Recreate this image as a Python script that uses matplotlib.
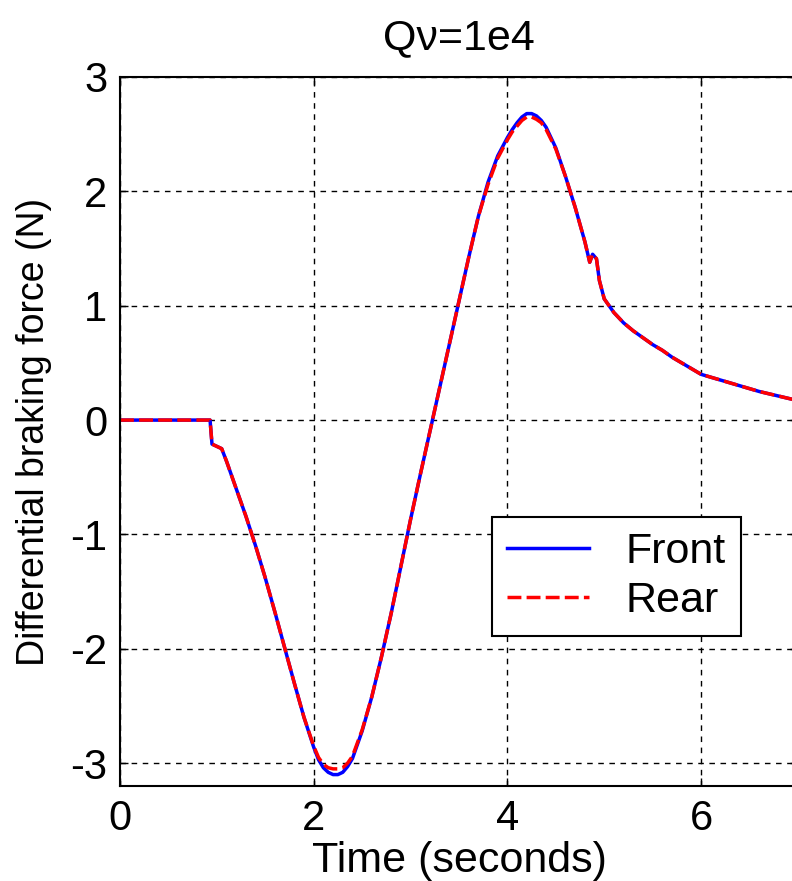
import numpy as np
import matplotlib
matplotlib.use("Agg")
import matplotlib.pyplot as plt

plt.rcParams['font.family'] = ['Liberation Sans', 'DejaVu Sans']
plt.rcParams['axes.unicode_minus'] = False

# time samples (s)
t = [0.0, 0.5, 0.93, 0.95, 1.0, 1.05, 1.1, 1.2, 1.3, 1.4, 1.5, 1.6, 1.7, 1.8,
     1.9, 2.0, 2.05, 2.1, 2.15, 2.2, 2.25, 2.3, 2.35, 2.4, 2.5, 2.6, 2.7,
     2.8, 2.9, 3.0, 3.1, 3.2, 3.3, 3.4, 3.5, 3.6, 3.7, 3.8, 3.9, 4.0, 4.05,
     4.1, 4.15, 4.2, 4.25, 4.3, 4.35, 4.4, 4.5, 4.6, 4.7, 4.8, 4.85, 4.88,
     4.92, 4.95, 5.0, 5.1, 5.2, 5.3, 5.4, 5.5, 5.6, 5.7, 5.8, 5.9, 6.0,
     6.2, 6.4, 6.6, 6.8, 7.0]

# differential braking force (N)
front = [0.0, 0.0, 0.0, -0.21, -0.23, -0.25, -0.36, -0.6, -0.84, -1.1, -1.38,
         -1.68, -1.99, -2.3, -2.6, -2.86, -2.97, -3.04, -3.08, -3.1, -3.1,
         -3.08, -3.03, -2.96, -2.72, -2.42, -2.07, -1.69, -1.28, -0.87,
         -0.48, -0.1, 0.28, 0.66, 1.04, 1.42, 1.78, 2.08, 2.31, 2.47, 2.54,
         2.6, 2.65, 2.68, 2.68, 2.66, 2.62, 2.56, 2.38, 2.13, 1.86, 1.56,
         1.38, 1.45, 1.41, 1.22, 1.06, 0.94, 0.85, 0.78, 0.72, 0.66, 0.61,
         0.55, 0.5, 0.45, 0.4, 0.35, 0.3, 0.25, 0.21, 0.17]
rear = [0.0, 0.0, 0.0, -0.21, -0.23, -0.25, -0.36, -0.6, -0.84, -1.1, -1.38,
        -1.68, -1.99, -2.3, -2.6, -2.85, -2.95, -3.01, -3.04, -3.05, -3.05,
        -3.04, -3.0, -2.94, -2.71, -2.42, -2.07, -1.69, -1.28, -0.87,
        -0.48, -0.1, 0.28, 0.66, 1.04, 1.42, 1.78, 2.06, 2.29, 2.45, 2.52,
        2.57, 2.62, 2.65, 2.65, 2.63, 2.6, 2.54, 2.37, 2.13, 1.86, 1.56,
        1.38, 1.45, 1.41, 1.22, 1.06, 0.94, 0.85, 0.78, 0.72, 0.66, 0.61,
        0.55, 0.5, 0.45, 0.4, 0.35, 0.3, 0.25, 0.21, 0.17]

xticks = [0, 2, 4, 6]
yticks = [-3, -2, -1, 0, 1, 2, 3]
yticklabels = ['-3', '-2', '-1', '0', '1', '2', '3']

fig = plt.figure(figsize=(7.92, 8.81), dpi=100)
ax = fig.add_axes([0.1515, 0.1078, 0.856, 0.8048])

ax.plot(t, front, color='#0000ff', lw=2.5, label='Front')
ax.plot(t, rear, color='#ff0000', lw=2.5, ls=(0, (4, 1.5)), label='Rear')

ax.set_xlim(0, 7)
ax.set_ylim(-3.2, 3)
ax.set_xticks(xticks)
ax.set_yticks(yticks)
ax.set_yticklabels(yticklabels)
ax.tick_params(direction='in', length=6, width=1, labelsize=30,
               top=True, right=True, pad=9)
ax.grid(True, color='black', ls=(0, (4, 4)), lw=1)
for s in ax.spines.values():
    s.set_linewidth(1.5)

ax.set_title('Q\u03bd=1e4', fontsize=31, pad=20)
ax.set_xlabel('Time (seconds)', fontsize=31, labelpad=2)
ax.set_ylabel('Differential braking force (N)', fontsize=27, labelpad=13)

leg = ax.legend(loc='upper left', bbox_to_anchor=(0.549, 0.379), fontsize=31,
                fancybox=False, edgecolor='black', framealpha=1,
                handlelength=1.9, handletextpad=0.85, borderpad=0.35,
                labelspacing=0.2, borderaxespad=0)
leg.get_frame().set_linewidth(1.5)

fig.savefig('out.png', dpi=100)
